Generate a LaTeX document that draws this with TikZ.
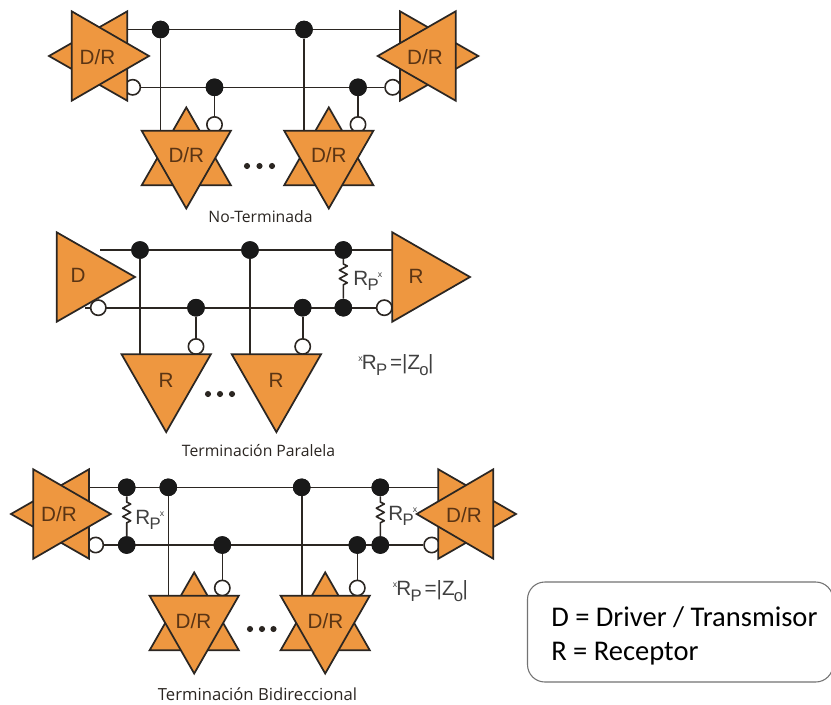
\documentclass[tikz,border=0pt]{standalone}
\usepackage{fontspec}
\setmainfont{Liberation Sans}
\newfontfamily\capfont{Open Sans}
\newfontfamily\legfont{Carlito}
\definecolor{org}{HTML}{EE9740}
\definecolor{ink}{HTML}{2B2622}
\definecolor{lab}{HTML}{5A3414}
\definecolor{gr}{HTML}{404040}
\tikzset{
 tri/.style={fill=org,draw=ink,line width=1.3pt,line join=miter},
 wire/.style={draw=ink,line width=1.2pt},
 jdot/.style={circle,fill=black!90,draw=none,minimum size=13.2pt,inner sep=0pt},
 bub/.style={circle,fill=white,draw=ink,line width=1.2pt,minimum size=11.5pt,inner sep=0pt},
 lbl/.style={text=lab,font=\fontsize{15.5}{15}\selectfont,inner sep=0pt},
 rpl/.style={text=gr,font=\fontsize{15.5}{15}\selectfont,inner sep=0pt,anchor=west},
 capt/.style={text=ink,font=\capfont\fontsize{11.8}{13}\selectfont,inner sep=0pt},
 leg/.style={text=black,font=\legfont\fontsize{21.4}{22}\selectfont,inner sep=0pt,anchor=west},
 ell/.style={circle,fill=ink,minimum size=4.6pt,inner sep=0pt},
}
\newcommand\htri[4]{\path[tri] (#2,#4) -- (#3,#4-44.7) -- (#3,#4+44.7) -- cycle;}
\newcommand\dtri[2]{\path[tri] (#1-44.6,#2) -- (#1+44.6,#2) -- (#1,#2+77.8) -- cycle;}
\newcommand\utri[2]{\path[tri] (#1-44.6,#2+54.6) -- (#1+44.6,#2+54.6) -- (#1,#2-23.3) -- cycle;}
\newcommand\subP{\kern-0.5pt\raisebox{-4.2pt}{\fontsize{12.5}{12}\selectfont P}}
\newcommand\rp{R\subP\kern-0.5pt\raisebox{6pt}{\fontsize{6.5}{6}\selectfont x}}
\newcommand\rpz{\raisebox{6pt}{\fontsize{6.5}{6}\selectfont x}\kern-0.5ptR\subP\kern-0.5pt\,=|Z\kern-0.5pt\raisebox{-4.2pt}{\fontsize{12.5}{12}\selectfont o}\kern-0.5pt|}
\newcommand\resist[4]{\draw[wire,line join=round] (#1) -- (#3,#4) -- ++(4,2) -- ++(-8,4.2) -- ++(8,4.2) -- ++(-8,4.2) -- ++(8,4.2) -- ++(-4,2) -- (#2);}
\begin{document}
\begin{tikzpicture}[x=0.75pt,y=-0.75pt]
\useasboundingbox[fill=white] (0,0) rectangle (831,704);
% ---------- group 1
\coordinate (a1) at (127,29.5); \coordinate (a2) at (400,29.5);
\node[jdot] (a3) at (160.5,29.5) {}; \node[jdot] (a4) at (304,29.5) {};
\node[jdot] (a5) at (214.5,87.3) {}; \node[jdot] (a6) at (358,87.3) {};
\node[bub] (a7) at (132.7,87.3) {}; \node[bub] (a8) at (392.7,87.3) {};
\node[bub] (a9) at (214.5,124.5) {}; \node[bub] (a10) at (358,124.5) {};
\coordinate (a11) at (160.5,130.7); \coordinate (a12) at (304,130.7);
\draw[wire] (a1) -- (a2);
\draw[wire] (a7) -- (a8);
\draw[wire] (a3) -- (a11);
\draw[wire] (a4) -- (a12);
\draw[wire] (a5) -- (a9);
\draw[wire] (a6) -- (a10);
\htri{}{49}{127.3}{56} \htri{}{149}{71.7}{56}
\htri{}{478.3}{400}{56} \htri{}{377.7}{455.7}{56}
\utri{186.3}{130.7} \dtri{186.3}{130.7}
\utri{328.8}{130.7} \dtri{328.8}{130.7}
\node[jdot] at (a3) {}; \node[jdot] at (a4) {}; \node[jdot] at (a5) {}; \node[jdot] at (a6) {};
\node[lbl] (l1) at (97.5,57) {D/R};
\node[lbl] (l2) at (425,57) {D/R};
\node[lbl] (l3) at (186.3,155) {D/R};
\node[lbl] (l4) at (328.8,155) {D/R};
\node[ell] (e1) at (247,166) {}; \node[ell] (e2) at (259.5,166) {}; \node[ell] (e3) at (272,166) {};
\node[capt] (c1) at (260.5,217) {No-Terminada};
% ---------- group 2
\coordinate (b1) at (100,250); \coordinate (b2) at (392.3,250);
\node[jdot] (b3) at (140,250) {}; \node[jdot] (b4) at (250,250) {}; \node[jdot] (b5) at (343.3,250) {};
\node[jdot] (b6) at (196,307.7) {}; \node[jdot] (b7) at (302.7,307.7) {}; \node[jdot] (b8) at (343.3,307.7) {};
\node[bub] (b10) at (384.3,307.7) {};
\node[bub] (b11) at (196,346.5) {}; \node[bub] (b12) at (302.7,346.5) {};
\coordinate (b13) at (140,354.3); \coordinate (b14) at (250,354.3);
\coordinate (b15) at (85,307.7);
\draw[wire] (b1) -- (b2);
\draw[wire] (b15) -- (b10);
\draw[wire] (b3) -- (b13);
\draw[wire] (b4) -- (b14);
\draw[wire] (b6) -- (b11);
\draw[wire] (b7) -- (b12);
\resist{b5}{b8}{343.3}{264}
\htri{}{135}{56.7}{277}
\htri{}{470}{392.3}{277}
\dtri{166.2}{354.3} \dtri{276.4}{354.3}
\node[bub] (b9) at (98.3,307.7) {};
\node[jdot] at (b3) {}; \node[jdot] at (b4) {}; \node[jdot] at (b5) {};
\node[jdot] at (b6) {}; \node[jdot] at (b7) {}; \node[jdot] at (b8) {};
\node[lbl] (l5) at (78,275) {D};
\node[lbl] (l6) at (416,276) {R};
\node[lbl] (l7) at (166,380) {R};
\node[lbl] (l8) at (276,380) {R};
\node[rpl] (r1) at (353,281) {\rp};
\node[rpl] (r2) at (358,365) {\rpz};
\node[ell] (e4) at (208,394) {}; \node[ell] (e5) at (220,394) {}; \node[ell] (e6) at (232,394) {};
\node[capt] (c2) at (258.5,451) {Terminación Paralela};
% ---------- group 3
\coordinate (d1) at (89,487.3); \coordinate (d2) at (438.3,487.3);
\node[jdot] (d3) at (126.7,487.3) {}; \node[jdot] (d4) at (168.3,487.3) {};
\node[jdot] (d5) at (301.7,487.3) {}; \node[jdot] (d6) at (380.3,487.3) {};
\node[jdot] (d7) at (126.7,545) {}; \node[jdot] (d8) at (222.3,545) {};
\node[jdot] (d9) at (357.3,545) {}; \node[jdot] (d10) at (380.3,545) {};
\node[bub] (d11) at (95.7,545) {}; \node[bub] (d12) at (431.7,545) {};
\node[bub] (d13) at (222.3,588) {}; \node[bub] (d14) at (357.3,588) {};
\coordinate (d15) at (168.3,595.7); \coordinate (d16) at (301.7,595.7);
\draw[wire] (d1) -- (d2);
\draw[wire] (d11) -- (d12);
\draw[wire] (d4) -- (d15);
\draw[wire] (d5) -- (d16);
\draw[wire] (d8) -- (d13);
\draw[wire] (d9) -- (d14);
\resist{d3}{d7}{126.7}{502}
\resist{d6}{d10}{380.3}{502}
\htri{}{11}{89}{514} \htri{}{110.7}{33.3}{514}
\htri{}{516}{438.3}{514} \htri{}{416.7}{493.3}{514}
\utri{194.2}{595.7} \dtri{194.2}{595.7}
\utri{325.2}{595.7} \dtri{325.2}{595.7}
\node[jdot] at (d3) {}; \node[jdot] at (d4) {}; \node[jdot] at (d5) {}; \node[jdot] at (d6) {};
\node[jdot] at (d7) {}; \node[jdot] at (d8) {}; \node[jdot] at (d9) {}; \node[jdot] at (d10) {};
\node[lbl] (l9) at (59,514) {D/R};
\node[lbl] (l10) at (464,515) {D/R};
\node[lbl] (l11) at (193.5,621) {D/R};
\node[lbl] (l12) at (325.5,621) {D/R};
\node[rpl] (r3) at (135,520) {\rp};
\node[rpl] (r4) at (388,516) {\rp};
\node[rpl] (r5) at (392.5,591) {\rpz};
\node[ell] (e7) at (250,629) {}; \node[ell] (e8) at (262,629) {}; \node[ell] (e9) at (273.5,629) {};
\node[capt,font=\capfont\fontsize{12.5}{14}\selectfont] (c3) at (257.5,694) {Terminación Bidireccional};
% ---------- legend
\draw[line width=0.8pt,draw=black!55,rounded corners=13pt] (527.5,582) rectangle (833,682);
\node[leg] (g1) at (551,617) {D = Driver / Transmisor};
\node[leg] (g2) at (551,653.5) {R = Receptor};
\end{tikzpicture}
\end{document}
